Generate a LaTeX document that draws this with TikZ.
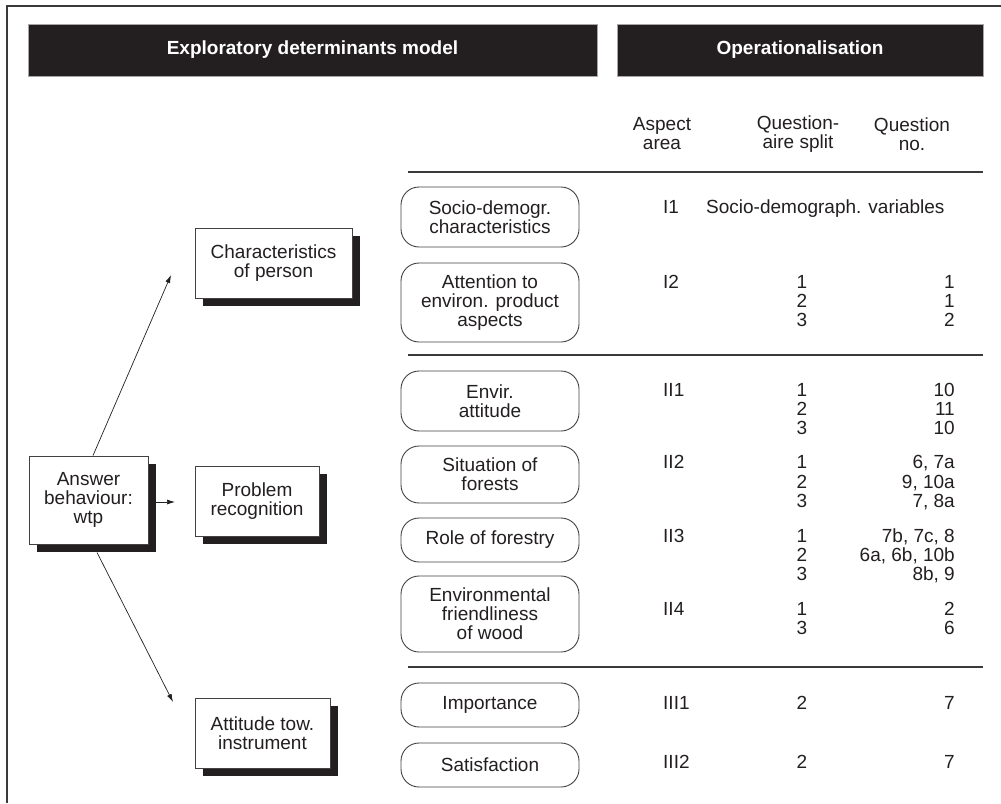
\documentclass[tikz,border=0pt]{standalone}
\usepackage{fontspec}
\setmainfont{Liberation Sans}
\usetikzlibrary{arrows.meta,shadows}
\definecolor{ink}{HTML}{231F20}
\definecolor{rulegray}{HTML}{3A3A3A}
\begin{document}
\begin{tikzpicture}[x=1pt,y=-1pt,
  every node/.style={font=\fontsize{19}{19}\selectfont, text=ink, inner sep=0pt},
  hdrbar/.style={fill=ink, draw=gray!70, line width=0.8pt, minimum height=52pt,
    text=white, font=\fontsize{19}{19}\selectfont\bfseries},
  shbox/.style={draw=ink!85, fill=white, line width=0.9pt, align=center,
    drop shadow={shadow xshift=8pt, shadow yshift=-8pt, fill=ink, opacity=1, draw=none}},
  aspectbox/.style={draw=ink!85, line width=0.9pt, rounded corners=18pt,
    minimum width=178pt, align=center},
  colhead/.style={align=center},
  sep/.style={draw=rulegray, line width=1.2pt},
  link/.style={draw=ink, line width=0.7pt, -{Latex[length=8pt,width=5pt]}}
]
\useasboundingbox (0,0) rectangle (1001,803);

% frame
\draw[rulegray, line width=1.2pt] (7,803) -- (7,6) -- (1001,6);

% header bars
\node[hdrbar, minimum width=569pt] (hmodel) at (312.5,50) {Exploratory determinants model};
\node[hdrbar, minimum width=366pt] (hoper) at (800,50) {Operationalisation};

% column headings
\node[colhead] (haspect) at (662,134) {Aspect\\area};
\node[colhead] (hsplit) at (798,134) {Question-\\aire split};
\node[colhead] (hno) at (912,134) {Question\\no.};

% separating rules
\draw[sep] (408,172) -- (983,172);
\draw[sep] (408,355) -- (983,355);
\draw[sep] (408,667) -- (983,667);

% determinant boxes with shadows
\node[shbox, minimum width=157pt, minimum height=70pt] (person) at (273.5,263) {Characteristics\\of person};
\node[shbox, minimum width=119pt, minimum height=88pt] (answer) at (88.5,500) {Answer\\behaviour:\\wtp};
\node[shbox, minimum width=124pt, minimum height=70pt] (problem) at (257,501) {Problem\\recognition};
\node[shbox, minimum width=135pt, minimum height=70pt] (instr) at (262.5,733) {Attitude tow.\\instrument};

% connectors
\coordinate (tipPerson) at (171,275);
\coordinate (tipProblem) at (175,502);
\coordinate (tipInstr) at (173,702);
\draw[link] ([xshift=4.5pt]answer.north) -- (tipPerson);
\draw[link] ([xshift=8pt,yshift=-2pt]answer.east) -- (tipProblem);
\draw[link] ([xshift=8.5pt,yshift=-8pt]answer.south) -- (tipInstr);

% aspect boxes
\node[aspectbox, minimum height=60pt] (a1) at (490,217) {Socio-demogr.\\characteristics};
\node[aspectbox, minimum height=79pt] (a2) at (490,302.5) {Attention to\\environ. product\\aspects};
\node[aspectbox, minimum height=60pt] (a3) at (490,401) {Envir.\\attitude};
\node[aspectbox, minimum height=57pt] (a4) at (490,474.5) {Situation of\\forests};
\node[aspectbox, minimum height=44pt] (a5) at (490,540) {Role of forestry};
\node[aspectbox, minimum height=76pt] (a6) at (490,614) {Environmental\\friendliness\\of wood};
\node[aspectbox, minimum height=44pt] (a7) at (490,705) {Importance};
\node[aspectbox, minimum height=44pt] (a8) at (490,765) {Satisfaction};

% aspect area codes
\foreach \y/\t [count=\k] in {207/I1, 282/I2, 390/II1, 462/II2, 536/II3, 609/II4, 703/III1, 762/III2}
  \node[anchor=base west] (code\k) at (663,\y+6.8) {\t};

\node[anchor=base west] (sociovars) at (706,213.8) {Socio-demograph. variables};

% questionnaire split and question numbers
\foreach \y/\s/\q [count=\k] in {
    282/1/1, 301/2/1, 320/3/2,
    390/1/10, 409/2/11, 428/3/10,
    462/1/{6, 7a}, 482/2/{9, 10a}, 501/3/{7, 8a},
    536/1/{7b, 7c, 8}, 555/2/{6a, 6b, 10b}, 574/3/{8b, 9},
    609/1/2, 628/3/6,
    703/2/7, 762/2/7}
{
  \node[anchor=base] (split\k) at (802,\y+6.8) {\s};
  \node[anchor=base east] (qno\k) at (955,\y+6.8) {\q};
}
\end{tikzpicture}
\end{document}
